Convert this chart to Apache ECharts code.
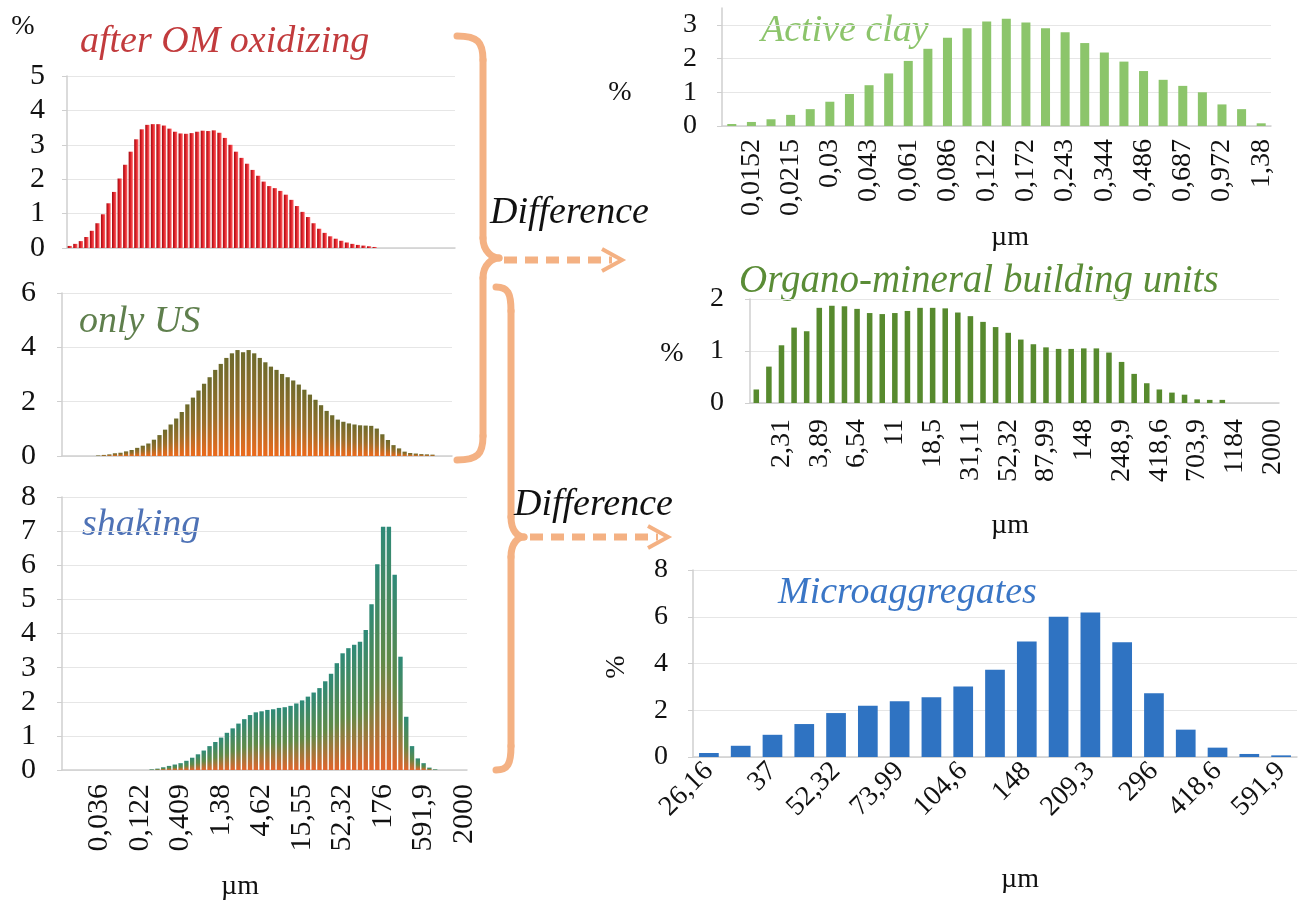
<!DOCTYPE html>
<html>
<head>
<meta charset="utf-8">
<script src="https://cdn.jsdelivr.net/npm/echarts@6/dist/echarts.min.js"></script>
<style>
  html, body { margin: 0; padding: 0; background: #ffffff; }
  #chart { width: 1300px; height: 904px; }
</style>
</head>
<body>
<div id="chart"></div>
<script>
// Particle size classes (µm), quarter-phi steps from 0.0128 to 2000
const sizeClasses = [
  '0,0128','0,0152','0,0181','0,0215','0,0256','0,03','0,036','0,043','0,051','0,061',
  '0,072','0,086','0,102','0,122','0,145','0,172','0,205','0,243','0,289','0,344',
  '0,409','0,486','0,578','0,687','0,818','0,972','1,16','1,38','1,64','1,95',
  '2,31','2,75','3,27','3,89','4,62','5,5','6,54','7,78','9,25','11',
  '13,08','15,55','18,5','22','26,16','31,11','37','44','52,32','62,23',
  '73,99','87,99','104,6','124,5','148','176','209,3','248,9','296','352',
  '418,6','497,8','591,9','703,9','837,1','995,5','1184','1408','1674','2000'
];

// Labelled ticks on each size axis
const leftTickLabels = ['0,036','0,122','0,409','1,38','4,62','15,55','52,32','176','591,9','2000'];
const clayTickLabels = ['0,0152','0,0215','0,03','0,043','0,061','0,086','0,122','0,172','0,243','0,344','0,486','0,687','0,972','1,38'];
const organoTickLabels = ['2,31','3,89','6,54','11','18,5','31,11','52,32','87,99','148','248,9','418,6','703,9','1184','2000'];
const microTickLabels = ['26,16','37','52,32','73,99','104,6','148','209,3','296','418,6','591,9'];

// Class ranges of the three difference spectra
const clayClasses = sizeClasses.slice(0, 28);
const organoClasses = sizeClasses.slice(28, 70);
const microClasses = sizeClasses.slice(44, 63);

// Volume fractions (%) per size class
const oxidizedValues = [
  0.06,0.12,0.2,0.32,0.5,0.72,0.98,1.3,1.63,2.02,
  2.42,2.8,3.16,3.45,3.58,3.6,3.6,3.56,3.47,3.38,
  3.33,3.32,3.34,3.38,3.41,3.4,3.42,3.35,3.2,3.0,
  2.8,2.62,2.45,2.27,2.1,1.93,1.8,1.74,1.66,1.55,
  1.4,1.22,1.05,0.9,0.72,0.56,0.44,0.34,0.27,0.21,
  0.16,0.12,0.09,0.07,0.05,0.03,0,0,0,0,
  0,0,0,0,0,0,0,0,0,0
];
const ultrasoundValues = [
  0,0,0,0,0,0,0.02,0.04,0.06,0.1,
  0.12,0.17,0.22,0.3,0.38,0.46,0.6,0.77,0.97,1.16,
  1.38,1.62,1.9,2.15,2.41,2.66,2.9,3.17,3.39,3.61,
  3.78,3.9,3.82,3.9,3.78,3.61,3.45,3.29,3.17,3.02,
  2.9,2.78,2.63,2.44,2.26,2.07,1.87,1.66,1.5,1.34,
  1.26,1.2,1.16,1.13,1.12,1.11,1.01,0.8,0.59,0.4,
  0.28,0.16,0.11,0.09,0.07,0.06,0.05,0,0,0
];
const shakingValues = [
  0,0,0,0,0,0,0,0,0,0,
  0,0,0,0,0,0.02,0.04,0.08,0.12,0.16,
  0.2,0.27,0.36,0.46,0.57,0.7,0.82,0.95,1.09,1.22,
  1.36,1.49,1.61,1.69,1.72,1.76,1.78,1.82,1.84,1.88,
  1.95,2.04,2.15,2.27,2.4,2.6,2.82,3.13,3.42,3.57,
  3.67,3.76,4.1,4.86,6.03,7.13,7.13,5.72,3.32,1.56,
  0.7,0.34,0.2,0.07,0.02,0,0,0,0,0
];
const clayValues = [
  0.06,0.12,0.2,0.33,0.5,0.72,0.95,1.21,1.56,1.93,
  2.29,2.62,2.9,3.1,3.18,3.07,2.9,2.78,2.46,2.18,
  1.91,1.63,1.37,1.19,1.0,0.64,0.5,0.08
];
const organoValues = [
  0.26,0.7,1.11,1.45,1.38,1.83,1.87,1.86,1.81,1.73,
  1.71,1.73,1.77,1.83,1.83,1.82,1.74,1.67,1.56,1.46,
  1.35,1.22,1.13,1.07,1.04,1.04,1.05,1.05,0.97,0.79,
  0.56,0.38,0.26,0.2,0.16,0.07,0.06,0.06,0,0,
  0,0
];
const microValues = [
  0.17,0.48,0.95,1.41,1.88,2.19,2.38,2.56,3.02,3.73,
  4.94,6.0,6.18,4.91,2.73,1.17,0.4,0.13,0.07
];

const SERIF = '"Liberation Serif", "DejaVu Serif", serif';
const GRID_COLOR = '#e6e6e6';
const AXIS_COLOR = '#cfcfcf';

function catAxis(gridIndex, data, tickLabels, opts) {
  return {
    type: 'category', gridIndex: gridIndex, data: data,
    boundaryGap: true,
    axisLine: { show: true, lineStyle: { color: AXIS_COLOR, width: 1.5 } },
    axisTick: { show: false },
    splitLine: { show: false },
    axisLabel: {
      show: !!tickLabels,
      interval: function (i, v) { return tickLabels ? tickLabels.indexOf(v) >= 0 : false; },
      rotate: opts.rotate, margin: opts.margin,
      fontFamily: SERIF, fontSize: opts.fontSize, color: '#111'
    }
  };
}

function valAxis(gridIndex, max, interval, fontSize, margin, gridColors) {
  return {
    type: 'value', gridIndex: gridIndex, min: 0, max: max, interval: interval,
    axisLine: { show: true, lineStyle: { color: AXIS_COLOR, width: 1.5 } },
    axisTick: { show: true, length: 5, lineStyle: { color: AXIS_COLOR } },
    splitLine: { show: true, lineStyle: { color: gridColors || GRID_COLOR, width: 1 } },
    axisLabel: {
      margin: margin, fontFamily: SERIF, fontSize: fontSize, color: '#111',
      showMaxLabel: max % interval === 0,
      formatter: function (v) { return String(v); }
    }
  };
}

const redFill = { type: 'linear', x: 0, y: 0, x2: 1, y2: 0, colorStops: [
  { offset: 0, color: '#9e0c12' }, { offset: 0.45, color: '#df1f27' }, { offset: 1, color: '#ff6a6a' } ] };
const oliveFill = { type: 'linear', x: 0, y: 0, x2: 0, y2: 1, colorStops: [
  { offset: 0, color: '#6c6a2c' }, { offset: 0.55, color: '#9c6f2a' }, { offset: 1, color: '#ec6a1c' } ] };
const tealFill = { type: 'linear', x: 0, y: 0, x2: 0, y2: 1, colorStops: [
  { offset: 0, color: '#2e8a78' }, { offset: 0.55, color: '#5f8a48' }, { offset: 1, color: '#e2642c' } ] };

// Decorative braces and arrows linking the panels
const BRACE = '#f4b183';
function bez(x1, y1, cpx1, cpy1, cpx2, cpy2, x2, y2) {
  return { type: 'bezierCurve', silent: true,
    shape: { x1: x1, y1: y1, cpx1: cpx1, cpy1: cpy1, cpx2: cpx2, cpy2: cpy2, x2: x2, y2: y2 },
    style: { stroke: BRACE, lineWidth: 7, fill: null, lineCap: 'round' } };
}
function seg(x1, y1, x2, y2) {
  return { type: 'line', silent: true, shape: { x1: x1, y1: y1, x2: x2, y2: y2 },
    style: { stroke: BRACE, lineWidth: 7, lineCap: 'round' } };
}
function brace(xTip, xBar, xPoint, yTop, yMid, yBot) {
  const r = 24;
  return [
    bez(xTip, yTop, xTip + (xBar - xTip) * 0.8, yTop, xBar, yTop + 6, xBar, yTop + r),
    seg(xBar, yTop + r, xBar, yMid - 20),
    bez(xBar, yMid - 20, xBar, yMid - 6, xPoint - 6, yMid, xPoint, yMid),
    bez(xPoint, yMid, xPoint - 6, yMid, xBar, yMid + 6, xBar, yMid + 20),
    seg(xBar, yMid + 20, xBar, yBot - r),
    bez(xBar, yBot - r, xBar, yBot - 6, xTip + (xBar - xTip) * 0.8, yBot, xTip, yBot)
  ];
}
function arrow(x1, x2, y) {
  return [
    { type: 'line', silent: true, shape: { x1: x1, y1: y, x2: x2 - 10, y2: y },
      style: { stroke: BRACE, lineWidth: 7, lineDash: [13, 8] } },
    { type: 'polyline', silent: true, shape: { points: [[x2 - 20, y - 11], [x2, y], [x2 - 20, y + 11]] },
      style: { stroke: BRACE, lineWidth: 4, fill: null, lineJoin: 'miter' } }
  ];
}
function label(text, x, y, size, color, italic, rotation) {
  return { type: 'text', x: x, y: y, rotation: rotation || 0, silent: true,
    style: { text: text, font: (italic ? 'italic ' : '') + size + 'px ' + SERIF,
      fill: color, align: 'left', verticalAlign: 'middle' } };
}
function centered(text, x, y, size, rotation) {
  return { type: 'text', x: x, y: y, rotation: rotation || 0, silent: true,
    style: { text: text, font: size + 'px ' + SERIF, fill: '#111', align: 'center', verticalAlign: 'middle' } };
}

const option = {
  animation: false,
  backgroundColor: '#ffffff',
  grid: [
    { left: 67, top: 76, width: 388, height: 172 },
    { left: 62, top: 293, width: 390, height: 163 },
    { left: 62, top: 497, width: 405, height: 273 },
    { left: 722, top: 8, width: 549, height: 118 },
    { left: 750, top: 299, width: 529, height: 104 },
    { left: 693, top: 570, width: 604, height: 187 }
  ],
  xAxis: [
    catAxis(0, sizeClasses, null, {}),
    catAxis(1, sizeClasses, null, {}),
    catAxis(2, sizeClasses, leftTickLabels, { rotate: 90, margin: 14, fontSize: 30 }),
    catAxis(3, clayClasses, clayTickLabels, { rotate: 90, margin: 13, fontSize: 28 }),
    catAxis(4, organoClasses, organoTickLabels, { rotate: 90, margin: 16, fontSize: 28 }),
    catAxis(5, microClasses, microTickLabels, { rotate: 45, margin: 10, fontSize: 28 })
  ],
  yAxis: [
    valAxis(0, 5, 1, 30, 22),
    valAxis(1, 6, 2, 30, 26),
    valAxis(2, 8, 1, 30, 26),
    valAxis(3, 3.5, 1, 28, 25, [GRID_COLOR, GRID_COLOR, GRID_COLOR, GRID_COLOR, 'rgba(0,0,0,0)']),
    valAxis(4, 2, 1, 28, 26),
    valAxis(5, 8, 2, 28, 25)
  ],
  series: [
    { type: 'bar', name: 'after OM oxidizing', xAxisIndex: 0, yAxisIndex: 0, data: oxidizedValues,
      barCategoryGap: '24%', itemStyle: { color: redFill } },
    { type: 'bar', name: 'only US', xAxisIndex: 1, yAxisIndex: 1, data: ultrasoundValues,
      barCategoryGap: '24%', itemStyle: { color: oliveFill } },
    { type: 'bar', name: 'shaking', xAxisIndex: 2, yAxisIndex: 2, data: shakingValues,
      barCategoryGap: '24%', itemStyle: { color: tealFill } },
    { type: 'bar', name: 'Active clay', xAxisIndex: 3, yAxisIndex: 3, data: clayValues,
      barCategoryGap: '54%', itemStyle: { color: '#8cc56b' } },
    { type: 'bar', name: 'Organo-mineral building units', xAxisIndex: 4, yAxisIndex: 4, data: organoValues,
      barCategoryGap: '56%', itemStyle: { color: '#578a2e' } },
    { type: 'bar', name: 'Microaggregates', xAxisIndex: 5, yAxisIndex: 5, data: microValues,
      barCategoryGap: '38%', itemStyle: { color: '#2f73c2' } }
  ],
  graphic: [].concat(
    brace(457, 483, 499, 36, 258, 460),
    brace(496, 511, 524, 287, 537, 770),
    arrow(504, 622, 260),
    arrow(530, 668, 537),
    [
      label('after OM oxidizing', 80, 42, 38, '#c23b3d', true),
      label('only US', 79, 322, 38, '#5f7f4d', true),
      label('shaking', 82, 525, 38, '#4e72b6', true),
      label('Active clay', 761, 31, 38, '#8cc46b', true),
      label('Organo-mineral building units', 739, 282, 39, '#5a8c36', true),
      label('Microaggregates', 778, 593, 38, '#3a76c6', true),
      label('Difference', 490, 213, 38, '#111', true),
      label('Difference', 514, 505, 38, '#111', true),
      centered('%', 23, 27, 28),
      centered('%', 620, 93, 28),
      centered('%', 672, 354, 28),
      centered('%', 617, 667, 28, Math.PI / 2),
      centered('µm', 240, 887, 28),
      centered('µm', 1010, 238, 28),
      centered('µm', 1010, 526, 28),
      centered('µm', 1020, 880, 28)
    ]
  )
};

const chart = echarts.init(document.getElementById('chart'), null, { renderer: 'canvas' });
chart.setOption(option);
</script>
</body>
</html>
